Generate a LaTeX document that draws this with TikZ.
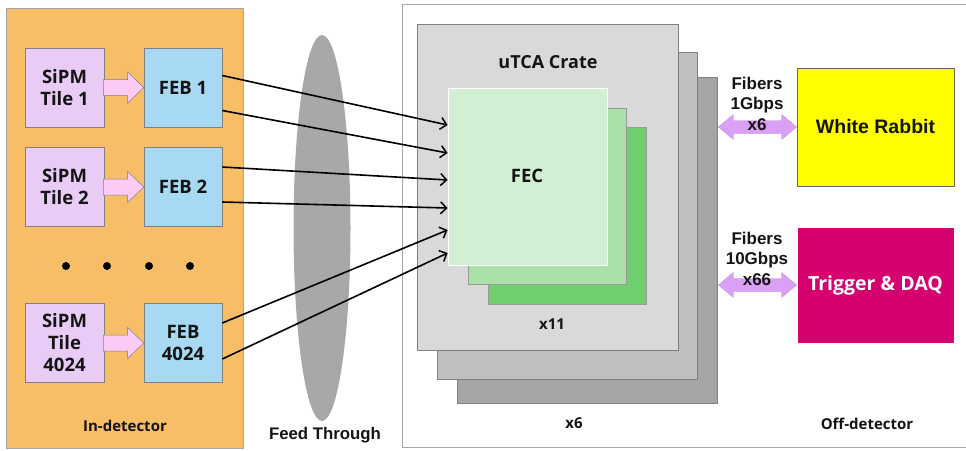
\documentclass[tikz,border=0pt]{standalone}
\usepackage{fontspec}
\setmainfont{Open Sans}
\newfontfamily\arialf{Liberation Sans}
\usetikzlibrary{shapes.geometric,calc,arrows.meta}
\definecolor{orangepanel}{HTML}{F7BE67}
\definecolor{tilepurple}{HTML}{E9CCF6}
\definecolor{febblue}{HTML}{A8D9F2}
\definecolor{pinkarrow}{HTML}{FCCBF5}
\definecolor{edgegray}{HTML}{808080}
\definecolor{ftgray}{HTML}{A8A8A8}
\definecolor{crateA}{HTML}{D9D9D9}
\definecolor{crateB}{HTML}{BFBFBF}
\definecolor{crateC}{HTML}{A5A5A5}
\definecolor{fecA}{HTML}{D3EFD3}
\definecolor{fecB}{HTML}{A9E1A9}
\definecolor{fecC}{HTML}{70D070}
\definecolor{wryellow}{HTML}{FFFF00}
\definecolor{daqmag}{HTML}{D6006F}
\definecolor{fibpurple}{HTML}{D9A0F5}
\definecolor{txt}{HTML}{141414}
\begin{document}
\begin{tikzpicture}[x=1pt,y=-1pt,
  panel/.style={draw=edgegray!70, line width=0.6pt, inner sep=0},
  tile/.style={draw=edgegray, line width=0.6pt, fill=tilepurple, minimum width=79pt, minimum height=79pt, inner sep=0, align=center, text=txt, font=\bfseries\fontsize{18.5}{22}\selectfont},
  febbox/.style={tile, fill=febblue, minimum width=78pt},
  pinkarr/.style={draw=edgegray, line width=0.5pt, fill=pinkarrow},
  fibarr/.style={fill=fibpurple, draw=fibpurple!90!black, line width=0.3pt},
  crate/.style={draw=edgegray, line width=0.6pt, inner sep=0},
  fecbox/.style={draw=edgegray!80, line width=0.6pt, inner sep=0},
  link/.style={line width=1.6pt, -{Straight Barb[length=6pt,width=12pt,line width=1.5pt]}},
  lbl/.style={inner sep=0, text=txt, font=\bfseries\fontsize{15}{19}\selectfont},
  fib/.style={inner sep=0, align=center, text=txt, font=\arialf\bfseries\fontsize{17}{20.5}\selectfont},
  dot/.style={circle, fill=black, inner sep=0, minimum size=8pt}
]
\useasboundingbox (0,0) rectangle (966,450);

% panels
\node[panel, fill=orangepanel, minimum width=237pt, minimum height=440pt] (indet) at (124.5,228) {};
\node[panel, minimum width=566pt, minimum height=443pt] (offdet) at (685,225.5) {};
\node[ellipse, fill=ftgray, inner sep=0, minimum width=57pt, minimum height=386pt] (ft) at (322,228) {};

% tiles and FEBs
\node[tile] (s1) at (64.5,87.5) {SiPM\\Tile 1};
\node[febbox] (f1) at (183,87.5) {FEB 1};
\node[tile] (s2) at (64.5,187) {SiPM\\Tile 2};
\node[febbox] (f2) at (183,187) {FEB 2};
\node[tile] (s3) at (64.5,343) {SiPM\\Tile\\4024};
\node[febbox] (f3) at (183,343) {FEB\\4024};

\foreach \s/\f in {s1/f1,s2/f2,s3/f3}{
  \draw[pinkarr] ($(\s.east)+(-1,-8)$) -- ($(\f.west)+(-16,-8)$) -- ($(\f.west)+(-16,-15.5)$)
    -- (\f.west) -- ($(\f.west)+(-16,15.5)$) -- ($(\f.west)+(-16,8)$) -- ($(\s.east)+(-1,8)$) -- cycle;
}

\node[dot] (d1) at (66,266) {};
\node[dot] (d2) at (107,266) {};
\node[dot] (d3) at (149,266) {};
\node[dot] (d4) at (190,266) {};

\node[lbl] (inlbl) at (125,426) {In-detector};
\node[inner sep=0, text=txt, font=\arialf\bfseries\fontsize{16.8}{19}\selectfont] (ftlbl) at (325,435) {Feed Through};

% crates
\node[crate, fill=crateC, minimum width=260pt, minimum height=326pt] (cr3) at (587,240) {};
\node[crate, fill=crateB, minimum width=260pt, minimum height=327pt] (cr2) at (567,215.5) {};
\node[crate, fill=crateA, minimum width=261pt, minimum height=326pt] (cr1) at (547.5,187) {};
\node[lbl, font=\bfseries\fontsize{18}{20}\selectfont] (cratelbl) at (548,62) {uTCA Crate};

\node[fecbox, fill=fecC, minimum width=158pt, minimum height=177pt] (fec3) at (567,215.5) {};
\node[fecbox, fill=fecB, minimum width=158pt, minimum height=176pt] (fec2) at (547,196) {};
\node[draw=white, line width=0.8pt, inner sep=0, fill=fecA, minimum width=159pt, minimum height=177pt] (fec) at (527.5,176.5) {};
\node[lbl, font=\bfseries\fontsize{18.5}{20}\selectfont] (feclbl) at (527,176) {FEC};
\node[lbl, font=\bfseries\fontsize{15}{18}\selectfont] (x11) at (552,324) {x11};
\node[lbl, font=\bfseries\fontsize{15}{18}\selectfont] (x6) at (574,423) {x6};
\node[lbl] (offlbl) at (867,424) {Off-detector};

% links FEB -> FEC
\draw[link] ($(f1.east)+(0,-12)$) -- ($(fec.west)+(0,-51.5)$);
\draw[link] ($(f1.east)+(0,23)$) -- ($(fec.west)+(0,-23.5)$);
\draw[link] ($(f2.east)+(0,-20)$) -- ($(fec.west)+(0,3.5)$);
\draw[link] ($(f2.east)+(0,15)$) -- ($(fec.west)+(0,31.5)$);
\draw[link] ($(f3.east)+(0,-20)$) -- ($(fec.west)+(0,53.5)$);
\draw[link] ($(f3.east)+(0,16)$) -- ($(fec.west)+(0,76.5)$);

% off-detector boxes
\node[draw=edgegray!80!black, line width=0.6pt, fill=wryellow, minimum width=157pt, minimum height=118pt, inner sep=0, text=txt, font=\arialf\bfseries\fontsize{19.5}{22}\selectfont] (wr) at (875.5,127) {White Rabbit};
\node[draw=white, line width=0.6pt, fill=daqmag, minimum width=157pt, minimum height=116pt, inner sep=0, text=white, font=\bfseries\fontsize{19.5}{22}\selectfont] (daq) at (875.5,285) {Trigger \& DAQ};

\coordinate (l1) at ($(cr3.east |- wr.west)+(1,0)$);
\coordinate (l2) at ($(cr3.east |- daq.west)+(1,0)$);
\foreach \L/\R in {l1/wr.west,l2/daq.west}{
  \draw[fibarr] (\L) -- ($(\L)+(15,-12.5)$) -- ($(\L)+(15,-6.5)$) -- ($(\R)+(-15,-6.5)$) -- ($(\R)+(-15,-12.5)$)
    -- (\R) -- ($(\R)+(-15,12.5)$) -- ($(\R)+(-15,6.5)$) -- ($(\L)+(15,6.5)$) -- ($(\L)+(15,12.5)$) -- cycle;
}
\node[fib] (fib1) at (757,103.5) {Fibers\\1Gbps\\x6};
\node[fib] (fib2) at (757,258.5) {Fibers\\10Gbps\\x66};
\end{tikzpicture}
\end{document}
